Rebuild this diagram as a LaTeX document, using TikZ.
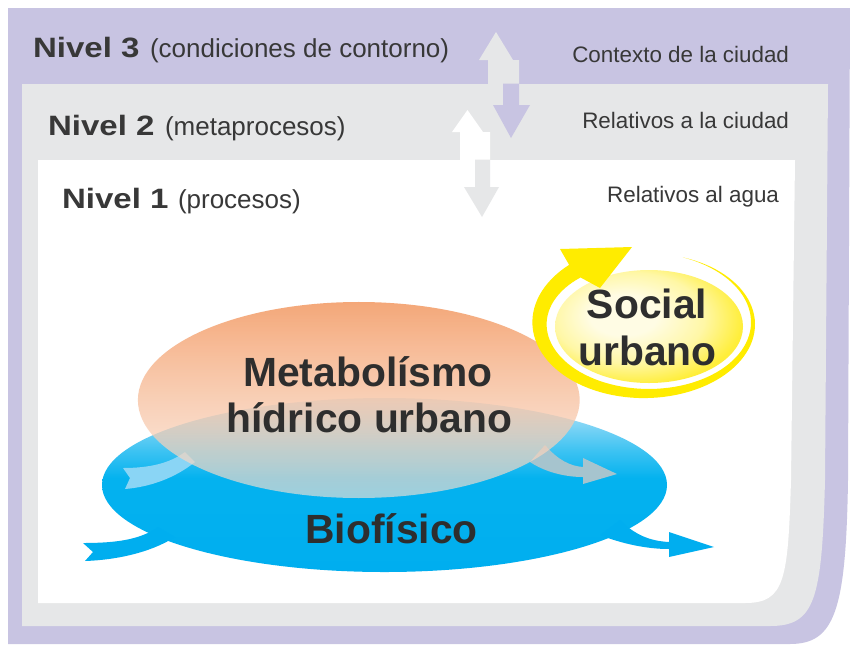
\documentclass[tikz,border=0pt]{standalone}
\usepackage{fontspec}
\setmainfont{Liberation Sans}
\usepackage{graphicx}
\usetikzlibrary{fadings}
\definecolor{lvpurple}{HTML}{C8C4E2}
\definecolor{lvgray}{HTML}{E6E7E8}
\definecolor{txt}{HTML}{383838}
\definecolor{bigtxt}{HTML}{2E2E2E}
\definecolor{bluedeep}{HTML}{00AEEF}
\definecolor{blueb}{HTML}{04B2EF}
\definecolor{bluec}{HTML}{3EC3F2}
\definecolor{blued}{HTML}{86D6F6}
\definecolor{bluee}{HTML}{C5EAFA}
\definecolor{peach}{HTML}{F4A270}
\definecolor{peachlight}{HTML}{FBE3D5}
\definecolor{swooshlb}{HTML}{8AD5F5}
\definecolor{swooshgr}{HTML}{A6C4CE}
\definecolor{ringyel}{HTML}{FFEC00}
\definecolor{paleyel}{HTML}{FFFCE4}
\definecolor{midyel}{HTML}{FFF7A6}
\definecolor{fullyel}{HTML}{FFEE3A}
\tikzfading[name=orangefade, top color=transparent!6, bottom color=transparent!38]
\pgfdeclareverticalshading{bioshade}{100bp}{color(0bp)=(bluedeep); color(25bp)=(bluedeep); color(52bp)=(blueb); color(60bp)=(bluec); color(68bp)=(blued); color(75bp)=(bluee); color(100bp)=(bluee)}
\pgfdeclareradialshading{sunny}{\pgfpoint{-8bp}{6bp}}{color(0bp)=(paleyel); color(9bp)=(paleyel); color(20bp)=(midyel); color(29bp)=(fullyel); color(60bp)=(fullyel)}
\begin{document}
\begin{tikzpicture}[x=0.75pt,y=-0.75pt,
  lvl/.style={inner sep=0pt, outer sep=0pt, text=txt, font=\fontsize{21}{25}\selectfont\bfseries},
  sub/.style={inner sep=0pt, outer sep=0pt, text=txt, font=\fontsize{19.5}{23}\selectfont},
  rlab/.style={inner sep=0pt, outer sep=0pt, text=txt, font=\fontsize{16.8}{20}\selectfont},
  big/.style={inner sep=0pt, outer sep=0pt, text=bigtxt, font=\fontsize{30.6}{34}\selectfont\bfseries}]
\useasboundingbox (0,0) rectangle (850,644);
\fill[white] (0,0) rectangle (850,644);
% level panels
\fill[lvpurple] (8,8) -- (850,8) -- (848,480) .. controls (846,610) and (835,644) .. (790,644) -- (8,644) -- cycle;
\fill[lvgray] (22,84) -- (828,84) -- (825,480) .. controls (822,600) and (815,626) .. (770,626) -- (22,626) -- cycle;
\fill[white] (38,160) -- (795,160) -- (791,480) .. controls (788,580) and (785,603) .. (745,603) -- (38,603) -- cycle;
% double arrows between levels
\fill[lvgray] (488,86) -- (488,60) -- (479,60) -- (496,32) -- (513,60) -- (519,60) -- (519,86) -- cycle;
\fill[lvpurple] (503,83.5) -- (519,83.5) -- (519,105) -- (530,105) -- (511,138) -- (493,105) -- (503,105) -- cycle;
\fill[white] (460,162) -- (460,132) -- (452,132) -- (467.5,110) -- (483,132) -- (490,132) -- (490,162) -- cycle;
\fill[lvgray] (475,159.5) -- (490,159.5) -- (490,187) -- (499,187) -- (482,217) -- (464,187) -- (475,187) -- cycle;
% biofisico
\shade[shading=bioshade] (384.5,485) ellipse [x radius=282.5, y radius=87];
\fill[bluedeep] (83,543) .. controls (115,543) and (140,540) .. (158,527) -- (175,537) .. controls (150,553) and (115,560) .. (85,561) -- (93,552) -- cycle;
\fill[bluedeep] (620,520) .. controls (635,535) and (650,541) .. (669,542) -- (669,532) -- (714,547) -- (669,557) -- (669,549) .. controls (645,549) and (620,543) .. (600,535) -- cycle;
\fill[swooshlb] (123,468) .. controls (150,468) and (170,463) .. (185,452) -- (195,462) .. controls (175,478) and (150,487) .. (125,489) -- (130,478) -- cycle;
\fill[swooshgr] (545,445) .. controls (558,460) and (570,466) .. (583,467) -- (583,458) -- (617,474) -- (583,484) -- (583,477) .. controls (565,477) and (545,472) .. (530,462) -- cycle;
% metabolismo
\shade[top color=peach, bottom color=peachlight, path fading=orangefade] (359,400) ellipse [x radius=221, y radius=98];
% social urbano
\fill[white] (649,327) ellipse [x radius=103, y radius=63];
\shade[shading=sunny] (649,326.5) ellipse [x radius=94, y radius=56.5];
\fill[ringyel] plot[domain=-70:228, samples=90, variable=\t] ({646.25+(106.75+0.0285*(\t+70))*cos(\t)}, {323.3+(70.2+0.0285*(\t+70))*sin(\t)})
  -- (560,249) -- (632,247) -- (600,288)
  -- plot[domain=228:-70, samples=90, variable=\t] ({646.25+(106.75-0.0285*(\t+70))*cos(\t)}, {323.3+(70.2-0.0285*(\t+70))*sin(\t)}) -- cycle;
% texts
\node[lvl, anchor=base west] (n3) at (33,57) {\scalebox{1.18}[1]{Nivel 3}};
\node[sub, anchor=base west] (n3p) at (150,57) {(condiciones de contorno)};
\node[rlab, anchor=base east] (r3) at (789,62) {Contexto de la ciudad};
\node[lvl, anchor=base west] (n2) at (48,135) {\scalebox{1.18}[1]{Nivel 2}};
\node[sub, anchor=base west] (n2p) at (165,135) {(metaprocesos)};
\node[rlab, anchor=base east] (r2) at (789,128) {Relativos a la ciudad};
\node[lvl, anchor=base west] (n1) at (62,208) {\scalebox{1.18}[1]{Nivel 1}};
\node[sub, anchor=base west] (n1p) at (178,208) {(procesos)};
\node[rlab, anchor=base east] (r1) at (779,202) {Relativos al agua};
\node[big, anchor=base] (m1) at (368,386) {Metabolísmo};
\node[big, anchor=base] (m2) at (369.5,432) {hídrico urbano};
\node[big, anchor=base] (bio) at (391.5,543) {Biofísico};
\node[big, anchor=base] (s1) at (647,318) {Social};
\node[big, anchor=base] (s2) at (647.5,365) {urbano};
\end{tikzpicture}
\end{document}
